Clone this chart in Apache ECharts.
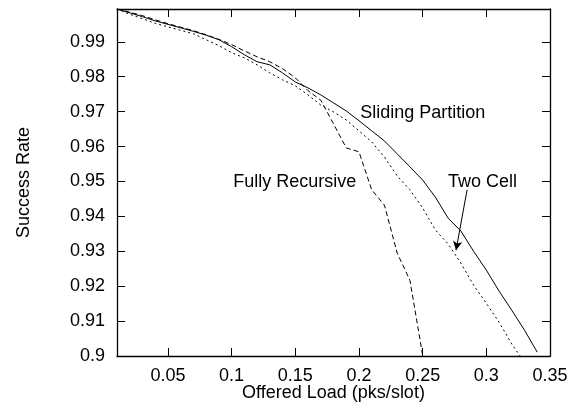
<!DOCTYPE html>
<html>
<head>
<meta charset="utf-8">
<script src="https://cdn.jsdelivr.net/npm/echarts@6/dist/echarts.min.js"></script>
<style>
  html, body { margin: 0; padding: 0; background: #fff; }
  #chart { width: 579px; height: 405px; }
</style>
</head>
<body>
<div id="chart"></div>
<script>
// offered load (pks/slot)
var loads = [0.01, 0.02, 0.03, 0.04, 0.05, 0.06, 0.07, 0.08, 0.09, 0.10,
             0.11, 0.12, 0.13, 0.14, 0.15, 0.16, 0.17, 0.18, 0.19, 0.20,
             0.21, 0.22, 0.23, 0.24, 0.25, 0.26, 0.27, 0.28, 0.29, 0.30,
             0.31, 0.32, 0.33, 0.34];
// success rates
var sliding = [0.9994, 0.9983, 0.9972, 0.9960, 0.9950, 0.9940, 0.9930, 0.9919, 0.9906, 0.9886,
               0.9863, 0.9843, 0.9834, 0.9811, 0.9785, 0.9768, 0.9748, 0.9725, 0.9702, 0.9674,
               0.9645, 0.9616, 0.9579, 0.9542, 0.9504, 0.9455, 0.9395, 0.9358, 0.9300, 0.9246,
               0.9186, 0.9131, 0.9074, 0.9011];
var fullyRec = [0.9994, 0.9985, 0.9975, 0.9963, 0.9952, 0.9942, 0.9932, 0.9920, 0.9907, 0.9892,
                0.9874, 0.9857, 0.9843, 0.9823, 0.9797, 0.9760, 0.9733, 0.9665, 0.9596, 0.9585,
                0.9476, 0.9432, 0.9295, 0.9217, 0.9002];
var twoCell = [0.9994, 0.9979, 0.9966, 0.9953, 0.9943, 0.9933, 0.9923, 0.9906, 0.9889, 0.9869,
               0.9854, 0.9834, 0.9811, 0.9791, 0.9774, 0.9748, 0.9719, 0.9699, 0.9676, 0.9645,
               0.9613, 0.9570, 0.9516, 0.9476, 0.9424, 0.9361, 0.9321, 0.9266, 0.9203, 0.9151,
               0.9097, 0.9034, 0.8982];
var xTicks = [0.05, 0.1, 0.15, 0.2, 0.25, 0.3, 0.35];
var yTicks = [0.9, 0.91, 0.92, 0.93, 0.94, 0.95, 0.96, 0.97, 0.98, 0.99];

// curve labels: [text, x, y]
var notes = [
    ['Sliding Partition', 0.201, 0.9696],
    ['Fully Recursive', 0.1012, 0.9498],
    ['Two Cell', 0.2699, 0.9498]
];
// arrow from "Two Cell" label to its curve
var arrowFrom = [0.2849, 0.9476];
var arrowTo = [0.2762, 0.9303];

function pairs(ys) {
    return ys.map(function (y, i) { return [loads[i], y]; });
}

var FONT = '"Liberation Sans", Arial, sans-serif';
var chart = echarts.init(document.getElementById('chart'));

var tickStyle = { show: true, inside: true, length: 8, lineStyle: { color: '#000', width: 1 } };
var lineStyleAxis = { show: true, onZero: false, lineStyle: { color: '#000', width: 1.3 } };

var option = {
    animation: false,
    backgroundColor: '#fff',
    grid: { left: 117, right: 29, top: 9, bottom: 49, outerBoundsMode: 'none' },
    xAxis: [
        {
            type: 'value', min: 0.01, max: 0.35, position: 'bottom',
            name: 'Offered Load (pks/slot)', nameLocation: 'middle', nameGap: 28,
            nameMoveOverlap: false,
            nameTextStyle: { fontFamily: FONT, fontSize: 18, color: '#000' },
            axisLine: lineStyleAxis,
            axisTick: Object.assign({ customValues: xTicks }, tickStyle),
            axisLabel: { customValues: xTicks, fontFamily: FONT, fontSize: 18, color: '#000', margin: 11 },
            splitLine: { show: false }
        },
        {
            type: 'value', min: 0.01, max: 0.35, position: 'top',
            axisLine: lineStyleAxis,
            axisTick: Object.assign({ customValues: xTicks }, tickStyle),
            axisLabel: { show: false },
            splitLine: { show: false }
        }
    ],
    yAxis: [
        {
            type: 'value', min: 0.9, max: 0.9994, position: 'left',
            name: 'Success Rate', nameLocation: 'middle', nameGap: 84, nameRotate: 90,
            nameMoveOverlap: false,
            nameTextStyle: { fontFamily: FONT, fontSize: 18, color: '#000' },
            axisLine: lineStyleAxis,
            axisTick: Object.assign({ customValues: yTicks }, tickStyle),
            axisLabel: { customValues: yTicks, fontFamily: FONT, fontSize: 18, color: '#000', margin: 12 },
            splitLine: { show: false }
        },
        {
            type: 'value', min: 0.9, max: 0.9994, position: 'right',
            axisLine: lineStyleAxis,
            axisTick: Object.assign({ customValues: yTicks }, tickStyle),
            axisLabel: { show: false },
            splitLine: { show: false }
        }
    ],
    series: [
        {
            name: 'Sliding Partition', type: 'line', data: pairs(sliding),
            showSymbol: false, symbol: 'none', clip: true,
            lineStyle: { color: '#000', width: 1, type: 'solid' },
            markPoint: {
                symbol: 'circle', symbolSize: 0,
                label: {
                    show: true, formatter: '{b}', position: 'right', distance: 0,
                    fontFamily: FONT, fontSize: 18, color: '#000'
                },
                data: notes.map(function (n) { return { name: n[0], coord: [n[1], n[2]] }; })
            },
            markLine: {
                silent: true, symbol: ['none', 'arrow'], symbolSize: [7, 9],
                label: { show: false },
                lineStyle: { color: '#000', width: 1, type: 'solid' },
                data: [[{ coord: arrowFrom }, { coord: arrowTo }]]
            }
        },
        {
            name: 'Fully Recursive', type: 'line', data: pairs(fullyRec),
            showSymbol: false, symbol: 'none', clip: true,
            lineStyle: { color: '#000', width: 1, type: [5, 3] }
        },
        {
            name: 'Two Cell', type: 'line', data: pairs(twoCell),
            showSymbol: false, symbol: 'none', clip: true,
            lineStyle: { color: '#000', width: 1, type: [2, 3] }
        }
    ]
};
chart.setOption(option);
</script>
</body>
</html>
